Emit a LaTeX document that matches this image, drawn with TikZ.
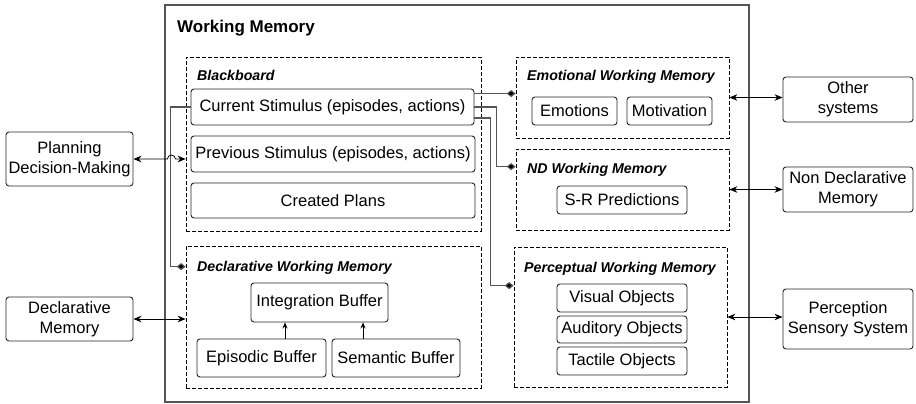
\documentclass[tikz,border=0pt]{standalone}
\usepackage{fontspec}
\setmainfont{Liberation Sans}
\usetikzlibrary{arrows.meta}

\definecolor{wmgray}{RGB}{85,85,85}

\tikzset{
  block/.style={rectangle, rounded corners=3pt, draw=black!85, line width=0.9pt, inner sep=0pt, align=center, font=\fontsize{16.5}{20}\selectfont},
  group/.style={rectangle, draw=black, dash pattern=on 4pt off 2pt, line width=0.7pt, inner sep=0pt},
  grouplabel/.style={anchor=base west, inner sep=0pt, font=\fontsize{14.2}{17}\selectfont\bfseries\itshape},
  link/.style={draw=wmgray, line width=1.1pt, -{Diamond[length=9pt,width=7pt,fill=black]}},
  both/.style={line width=0.8pt, {Stealth[length=8pt,width=6.5pt]}-{Stealth[length=8pt,width=6.5pt]}},
  up/.style={line width=0.8pt, -{Stealth[length=6pt,width=5pt]}}
}

\begin{document}
\begin{tikzpicture}[x=1pt,y=-1pt]
\useasboundingbox (0,0) rectangle (916,404);

\node[rectangle, draw=wmgray, line width=1.1pt, minimum width=584pt, minimum height=397pt] (wm) at (457,203.5) {};
\node[anchor=base west, inner sep=0pt, font=\fontsize{17}{20}\selectfont\bfseries] (wmtitle) at (177,33) {Working Memory};

\node[group, minimum width=295pt, minimum height=174pt] (bb) at (333.5,144) {};
\node[group, minimum width=295pt, minimum height=142pt] (dwm) at (333.5,317) {};
\node[group, minimum width=213pt, minimum height=81pt] (ewm) at (622.5,97.5) {};
\node[group, minimum width=213pt, minimum height=81pt] (ndwm) at (622.5,189.5) {};
\node[group, minimum width=213pt, minimum height=140pt] (pwm) at (620.5,317) {};

\node[grouplabel] (bblabel) at (197,81) {Blackboard};
\node[grouplabel] (dwmlabel) at (197,271) {Declarative Working Memory};
\node[grouplabel] (ewmlabel) at (527,81) {Emotional Working Memory};
\node[grouplabel] (ndlabel) at (527,173) {ND Working Memory};
\node[grouplabel] (pwmlabel) at (524,272) {Perceptual Working Memory};

\node[block, minimum width=283pt, minimum height=36pt] (cur) at (332.5,107) {Current Stimulus (episodes, actions)};
\node[block, minimum width=284pt, minimum height=36pt] (prev) at (333,154) {Previous Stimulus (episodes, actions)};
\node[block, minimum width=284pt, minimum height=35pt] (plans) at (333,200.5) {Created Plans};

\node[block, minimum width=137pt, minimum height=39pt] (integ) at (319.5,302.5) {Integration Buffer};
\node[block, minimum width=129pt, minimum height=38pt] (epis) at (261.5,358) {Episodic Buffer};
\node[block, minimum width=128pt, minimum height=38pt] (sem) at (396,358) {Semantic Buffer};

\node[block, minimum width=85pt, minimum height=28pt] (emo) at (574.5,111) {Emotions};
\node[block, minimum width=85pt, minimum height=28pt] (motiv) at (669.5,111) {Motivation};
\node[block, minimum width=130pt, minimum height=28pt] (srpred) at (622,200) {S-R Predictions};
\node[block, minimum width=130pt, minimum height=28pt] (visual) at (622,298) {Visual Objects};
\node[block, minimum width=130pt, minimum height=27pt] (audit) at (622,329.5) {Auditory Objects};
\node[block, minimum width=130pt, minimum height=28pt] (tact) at (622,361) {Tactile Objects};

\node[block, minimum width=127pt, minimum height=54pt] (plan) at (69.5,159) {Planning\\Decision-Making};
\node[block, minimum width=127pt, minimum height=44pt] (declmem) at (69.5,319) {Declarative\\Memory};
\node[block, minimum width=130pt, minimum height=45pt] (other) at (848,99.5) {Other\\systems};
\node[block, minimum width=130pt, minimum height=45pt] (nondecl) at (848,189.5) {Non Declarative\\Memory};
\node[block, minimum width=130pt, minimum height=60pt] (percsys) at (848,319) {Perception\\Sensory System};

\draw[link] (cur.west) -- ++(-20,0) |- ([yshift=-21pt]dwm.north west);
\draw[link] ([yshift=-5pt]cur.north east) -- ([yshift=-5pt]cur.north east -| ewm.west);
\draw[link] (cur.east) -- ++(22,0) |- ([yshift=-18pt]ndwm.north west);
\draw[link] ([yshift=-11pt]cur.east) -- ++(16,0) |- ([yshift=-39pt]pwm.north west);

\draw[up] ([xshift=23.5pt]epis.north) -- ([xshift=23.5pt]epis.north |- integ.south);
\draw[up] ([xshift=-33pt]sem.north) -- ([xshift=-33pt]sem.north |- integ.south);

\draw[both] (plan.east) -- ++(34,0) arc[start angle=180, end angle=0, radius=4pt] -- (plan.east -| bb.west);
\draw[both] (declmem.east) -- (declmem.east -| dwm.west);
\draw[both] (ewm.east) -- (ewm.east -| other.west);
\draw[both] (ndwm.east) -- (ndwm.east -| nondecl.west);
\draw[both] (pwm.east) -- (pwm.east -| percsys.west);
\end{tikzpicture}
\end{document}
